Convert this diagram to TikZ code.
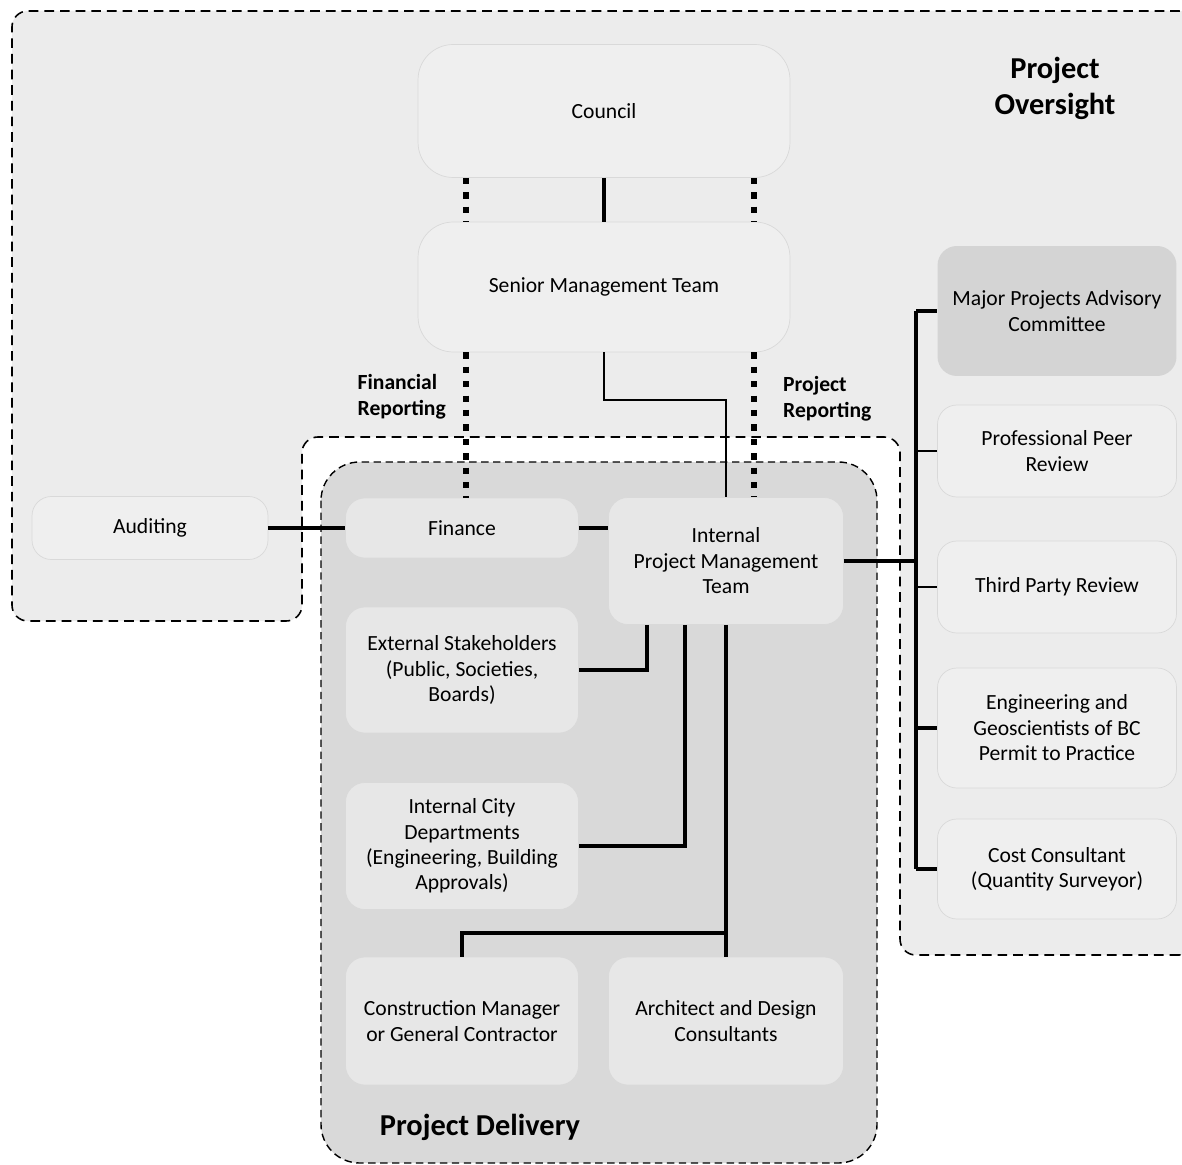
\documentclass[tikz,border=0pt]{standalone}
\usepackage{fontspec}
\setmainfont{Carlito}
\usetikzlibrary{positioning}

\definecolor{oversightfill}{HTML}{ECECEC}
\definecolor{deliveryfill}{HTML}{D9D9D9}
\definecolor{unitfill}{HTML}{EFEFEF}
\definecolor{innerfill}{HTML}{E7E7E7}
\definecolor{advisoryfill}{HTML}{D4D4D4}

\begin{document}
\begin{tikzpicture}[x=0.02cm,y=-0.02cm,
  unit/.style={draw=gray!30, line width=0.4pt, fill=unitfill, rounded corners=11pt,
    align=center, inner sep=2pt, font=\fontsize{12.3}{14.5}\selectfont},
  inner unit/.style={unit, fill=innerfill},
  heading/.style={font=\bfseries\fontsize{17.3}{20.4}\selectfont, align=center},
  tag/.style={font=\bfseries\fontsize{12.3}{14.8}\selectfont, align=left},
  link/.style={line width=1.9pt},
  thin link/.style={line width=1.1pt},
  report/.style={line width=3.6pt, dash pattern=on 3.6pt off 4.6pt},
  zone/.style={dash pattern=on 5.5pt off 3.4pt, line width=0.9pt}]

  % page and the two zones
  \path[use as bounding box, fill=white] (0,0) rectangle (1182,1165);
  \draw[zone, fill=oversightfill, rounded corners=9pt]
    (1195,955) -- (900,955) -- (900,437) -- (302,437) -- (302,621)
    -- (12,621) -- (12,11) -- (1195,11) -- cycle;
  \draw[zone, fill=deliveryfill, dash pattern=on 4.2pt off 2.6pt, line width=0.8pt,
    rounded corners=22pt] (321,462) rectangle (877,1163);

  \node[heading] at (1055,88) {Project\\Oversight};
  \node[heading] at (480,1127) {Project Delivery};

  % oversight units
  \node[unit, minimum width=7.44cm, minimum height=2.66cm, rounded corners=20pt] (council) at (604,111) {Council};
  \node[unit, minimum width=7.44cm, minimum height=2.6cm, rounded corners=20pt] (smt) at (604,287) {Senior Management Team};
  \node[unit, minimum width=4.72cm, minimum height=1.26cm] (audit) at (150,528) {Auditing};

  % delivery units
  \node[inner unit, minimum width=4.66cm, minimum height=1.2cm] (finance) at (462,528) {Finance};
  \node[inner unit, minimum width=4.7cm, minimum height=2.54cm] (ipmt) at (726,561) {Internal\\Project Management\\Team};
  \node[inner unit, minimum width=4.66cm, minimum height=2.52cm] (stake) at (462,670) {External Stakeholders\\(Public, Societies,\\Boards)};
  \node[inner unit, minimum width=4.66cm, minimum height=2.54cm] (city) at (462,846) {Internal City\\Departments\\(Engineering, Building\\Approvals)};
  \node[inner unit, minimum width=4.66cm, minimum height=2.56cm] (cm) at (462,1021) {Construction Manager\\or General Contractor};
  \node[inner unit, minimum width=4.7cm, minimum height=2.56cm] (arch) at (726,1021) {Architect and Design\\Consultants};

  % review bodies
  \node[unit, fill=advisoryfill, draw=none, minimum width=4.78cm, minimum height=2.6cm] (mpac) at (1057,311) {Major Projects Advisory\\Committee};
  \node[unit, minimum width=4.78cm, minimum height=1.84cm] (peer) at (1057,451) {Professional Peer\\Review};
  \node[unit, minimum width=4.78cm, minimum height=1.84cm] (third) at (1057,587) {Third Party Review};
  \node[unit, minimum width=4.78cm, minimum height=2.4cm] (egbc) at (1057,728) {Engineering and\\Geoscientists of BC\\Permit to Practice};
  \node[unit, minimum width=4.78cm, minimum height=2.0cm] (cost) at (1057,869) {Cost Consultant\\(Quantity Surveyor)};

  % reporting lines
  \coordinate (fr) at (466,0);
  \coordinate (pr) at (754,0);
  \coordinate (bus) at (916,0);
  \coordinate (tapA) at (647,0);
  \coordinate (tapB) at (685,0);
  \coordinate (split) at (726,933);

  \draw[report] (fr |- council.south) -- (fr |- smt.north);
  \draw[report] (pr |- council.south) -- (pr |- smt.north);
  \draw[report] (fr |- smt.south) -- (fr |- finance.north);
  \draw[report] (pr |- smt.south) -- (pr |- ipmt.north);

  \node[tag, anchor=east] at (452,397) {Financial\\Reporting};
  \node[tag, anchor=west] at (777,399) {Project\\Reporting};

  % line of authority
  \draw[link] (council.south) -- (smt.north);
  \draw[thin link] (smt.south) -- ++(0,48) -| (ipmt.north);
  \draw[link] (audit.east) -- (finance.west);
  \draw[link] (finance.east) -- (finance.east -| ipmt.west);

  \draw[link] (ipmt.east) -- (ipmt.east -| bus);
  \draw[link] (bus |- mpac) -- (bus |- cost);
  \foreach \r in {mpac,egbc,cost}
    \draw[link] (bus |- \r) -- (\r.west);
  \foreach \r in {peer,third}
    \draw[thin link] (bus |- \r) -- (\r.west);

  \draw[link] (tapA |- ipmt.south) |- (stake.east);
  \draw[link] (tapB |- ipmt.south) |- (city.east);
  \draw[link] (ipmt.south) -- (arch.north);
  \draw[link] (split) -| (cm.north);
\end{tikzpicture}
\end{document}
